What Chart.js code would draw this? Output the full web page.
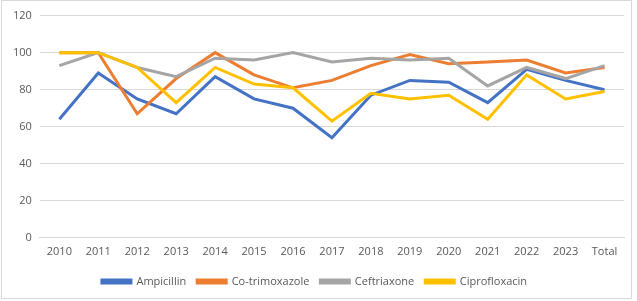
<!DOCTYPE html>
<html>
<head>
<meta charset="utf-8">
<script src="https://cdn.jsdelivr.net/npm/chart.js@4/dist/chart.umd.min.js"></script>
<style>
  body { margin: 0; background: #fff; }
  #wrap { position: absolute; left: 1px; top: 0; width: 629px; height: 297px; border: 1px solid #d9d9d9; }
</style>
</head>
<body>
<div id="wrap"><canvas id="myChart"></canvas></div>
<script>
'use strict';

const years = ['2010', '2011', '2012', '2013', '2014', '2015', '2016', '2017', '2018', '2019', '2020', '2021', '2022', '2023', 'Total'];
const ampicillin = [64, 89, 75, 67, 87, 75, 70, 54, 77, 85, 84, 73, 91, 85, 80];
const cotrimoxazole = [100, 100, 67, 86, 100, 88, 81, 85, 93, 99, 94, 95, 96, 89, 92];
const ceftriaxone = [93, 100, 92, 87, 97, 96, 100, 95, 97, 96, 97, 82, 92, 86, 93];
const ciprofloxacin = [100, 100, 92, 73, 92, 83, 81, 63, 78, 75, 77, 64, 88, 75, 79];
const yTicks = [0, 20, 40, 60, 80, 100, 120];

const textColor = '#595959';

// later series sit on top, like the original
function series(label, values, color, order) {
  return {
    label: label,
    data: values,
    borderColor: color,
    backgroundColor: color,
    borderWidth: 3,
    pointRadius: 0,
    tension: 0,
    fill: false,
    order: order
  };
}

const ctx = document.getElementById('myChart').getContext('2d');

const data = {
  labels: years,
  datasets: [
    series('Ampicillin', ampicillin, '#4472C4', 4),
    series('Co-trimoxazole', cotrimoxazole, '#ED7D31', 3),
    series('Ceftriaxone', ceftriaxone, '#A5A5A5', 2),
    series('Ciprofloxacin', ciprofloxacin, '#FFC000', 1)
  ]
};

const myChart = new Chart(ctx, {
  type: 'line',
  data: data,
  options: {
    responsive: true,
    maintainAspectRatio: false,
    animation: false,
    layout: { padding: { left: 3, right: 7, top: 8, bottom: 1 } },
    scales: {
      x: {
        offset: true,
        grid: { display: false, drawTicks: false },
        border: { color: '#d9d9d9' },
        ticks: { color: textColor, font: { family: 'Open Sans', size: 11 }, maxRotation: 0, padding: 7 }
      },
      y: {
        min: 0,
        max: 120,
        afterBuildTicks: axis => { axis.ticks = yTicks.map(v => ({ value: v })); },
        grid: { color: '#d9d9d9', drawTicks: false },
        border: { display: false },
        ticks: { color: textColor, font: { family: 'Open Sans', size: 11 }, padding: 8 }
      }
    },
    plugins: {
      legend: {
        position: 'bottom',
        labels: {
          color: textColor,
          font: { family: 'Open Sans', size: 11 },
          boxWidth: 29,
          boxHeight: 3,
          padding: 11,
          sort: (a, b) => a.datasetIndex - b.datasetIndex
        }
      },
      tooltip: { enabled: false }
    }
  }
});
</script>
</body>
</html>
